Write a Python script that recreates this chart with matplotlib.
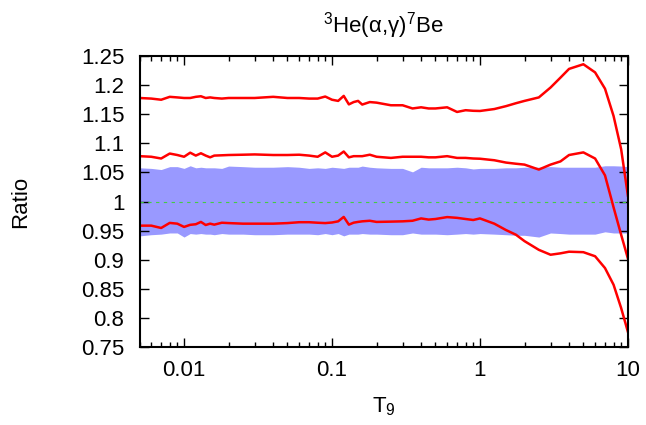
import matplotlib
matplotlib.use("Agg")
import matplotlib.pyplot as plt
from matplotlib.ticker import FixedLocator, LogLocator, NullFormatter

plt.rcParams['font.family'] = ['Liberation Sans', 'DejaVu Sans']
plt.rcParams['mathtext.fontset'] = 'custom'
plt.rcParams['mathtext.rm'] = 'Liberation Sans'
plt.rcParams['mathtext.it'] = 'Liberation Sans'

# temperature grid (T9)
t9 = [0.005, 0.006, 0.007, 0.008, 0.009, 0.01, 0.011, 0.012, 0.013, 0.014,
      0.015, 0.016, 0.018, 0.02, 0.025, 0.03, 0.04, 0.05, 0.06, 0.07,
      0.08, 0.09, 0.1, 0.11, 0.12, 0.13, 0.14, 0.15, 0.16, 0.18,
      0.2, 0.25, 0.3, 0.35, 0.4, 0.45, 0.5, 0.6, 0.7, 0.8,
      0.9, 1.0, 1.25, 1.5, 1.75, 2.0, 2.5, 3.0, 3.5, 4.0,
      5.0, 6.0, 7.0, 8.0, 9.0, 10.0]

# uncertainty band
band_hi = [1.058, 1.057, 1.055, 1.060, 1.060, 1.057, 1.0615, 1.058, 1.059, 1.058,
           1.058, 1.058, 1.057, 1.061, 1.060, 1.059, 1.059, 1.060, 1.059, 1.057,
           1.058, 1.057, 1.059, 1.058, 1.057, 1.059, 1.059, 1.059, 1.061, 1.059,
           1.058, 1.057, 1.057, 1.051, 1.059, 1.058, 1.058, 1.058, 1.059, 1.058,
           1.056, 1.057, 1.057, 1.058, 1.058, 1.059, 1.059, 1.060, 1.059, 1.059,
           1.059, 1.059, 1.0615, 1.0615, 1.061, 1.060]
band_lo = [0.941, 0.943, 0.944, 0.946, 0.946, 0.939, 0.945, 0.944, 0.945, 0.944,
           0.944, 0.943, 0.945, 0.944, 0.944, 0.943, 0.943, 0.944, 0.944, 0.944,
           0.943, 0.945, 0.943, 0.945, 0.941, 0.944, 0.944, 0.944, 0.945, 0.944,
           0.944, 0.943, 0.943, 0.946, 0.944, 0.944, 0.944, 0.943, 0.944, 0.945,
           0.944, 0.945, 0.944, 0.943, 0.942, 0.942, 0.939, 0.946, 0.945, 0.944,
           0.944, 0.944, 0.948, 0.946, 0.946, 0.946]

# red curves
upper = [1.178, 1.177, 1.175, 1.180, 1.179, 1.178, 1.178, 1.180, 1.181, 1.178,
         1.179, 1.178, 1.177, 1.178, 1.178, 1.178, 1.180, 1.178, 1.178, 1.177,
         1.177, 1.1805, 1.175, 1.173, 1.1816, 1.167, 1.171, 1.173, 1.1667, 1.171,
         1.170, 1.1655, 1.1655, 1.160, 1.162, 1.160, 1.160, 1.162, 1.154, 1.157,
         1.156, 1.1557, 1.159, 1.164, 1.169, 1.173, 1.179, 1.196, 1.213, 1.228,
         1.236, 1.222, 1.194, 1.147, 1.090, 1.010]
middle = [1.078, 1.077, 1.074, 1.0825, 1.080, 1.077, 1.084, 1.079, 1.083, 1.079,
          1.076, 1.079, 1.0795, 1.080, 1.0805, 1.081, 1.080, 1.080, 1.0805, 1.079,
          1.077, 1.0845, 1.077, 1.079, 1.086, 1.076, 1.078, 1.078, 1.078, 1.0805,
          1.077, 1.075, 1.077, 1.077, 1.077, 1.076, 1.076, 1.078, 1.075, 1.075,
          1.074, 1.0736, 1.071, 1.067, 1.065, 1.0635, 1.055, 1.0635, 1.069, 1.080,
          1.0845, 1.074, 1.045, 0.990, 0.943, 0.902]
lower = [0.9586, 0.9586, 0.9546, 0.9633, 0.962, 0.9564, 0.960, 0.961, 0.965, 0.9597,
         0.962, 0.9603, 0.9636, 0.963, 0.962, 0.962, 0.962, 0.963, 0.9645, 0.9645,
         0.9636, 0.963, 0.964, 0.966, 0.9736, 0.9603, 0.9637, 0.965, 0.966, 0.967,
         0.965, 0.9655, 0.966, 0.967, 0.971, 0.969, 0.970, 0.9733, 0.972, 0.970,
         0.9683, 0.971, 0.962, 0.951, 0.943, 0.932, 0.917, 0.9086, 0.911, 0.9138,
         0.913, 0.906, 0.8857, 0.857, 0.817, 0.776]

y_ticks = [0.75, 0.8, 0.85, 0.9, 0.95, 1.0, 1.05, 1.1, 1.15, 1.2, 1.25]
y_labels = ['0.75', '0.8', '0.85', '0.9', '0.95', '1', '1.05', '1.1', '1.15', '1.2', '1.25']
x_ticks = [0.01, 0.1, 1, 10]
x_labels = ['0.01', '0.1', '1', '10']

fig = plt.figure(figsize=(6.46, 4.25), dpi=100)
ax = fig.add_axes([0.216, 0.1835, 0.756, 0.6845])

ax.fill_between(t9, band_lo, band_hi, color='#9999ff', linewidth=0)

ax.axhline(1.0, color='#44cc44', linewidth=0.8, dashes=(3, 4))

for curve in (upper, middle, lower):
    ax.plot(t9, curve, color='red', linewidth=1.8)

ax.set_xscale('log')
ax.set_xlim(0.005, 10)
ax.set_ylim(0.75, 1.25)

ax.xaxis.set_major_locator(FixedLocator(x_ticks))
ax.set_xticklabels(x_labels)
ax.xaxis.set_minor_locator(LogLocator(base=10, subs=range(2, 10), numticks=20))
ax.xaxis.set_minor_formatter(NullFormatter())
ax.set_yticks(y_ticks)
ax.set_yticklabels(y_labels)

ax.tick_params(which='both', direction='in', top=True, right=True, width=1.0,
               labelsize=16)
ax.tick_params(which='major', length=6.5)
ax.tick_params(which='minor', length=3.3)
ax.tick_params(axis='y', pad=11)
ax.tick_params(axis='x', pad=9)

for s in ax.spines.values():
    s.set_linewidth(1.5)

ax.set_xlabel(r'T$_9$', fontsize=16, labelpad=11)
ax.set_ylabel('Ratio', fontsize=16, labelpad=36)
ax.set_title(r'$^{3}$He(α,γ)$^{7}$Be', fontsize=16, pad=17)

fig.savefig('out.png', dpi=100)
